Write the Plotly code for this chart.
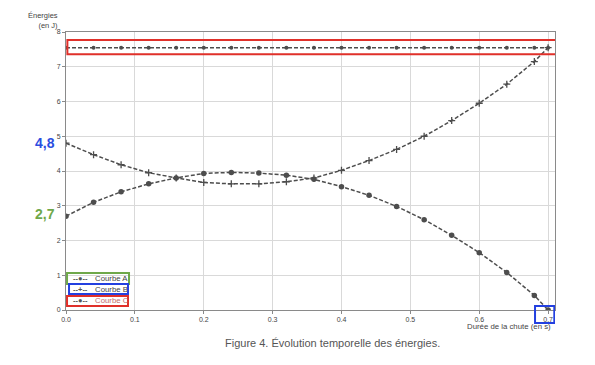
import plotly.graph_objects as go

# ---- data ----
t = [0.00, 0.04, 0.08, 0.12, 0.16, 0.20, 0.24, 0.28, 0.32, 0.36,
     0.40, 0.44, 0.48, 0.52, 0.56, 0.60, 0.64, 0.68, 0.70]
courbe_a = [2.70, 3.10, 3.40, 3.63, 3.80, 3.93, 3.96, 3.94, 3.88, 3.76,
            3.55, 3.30, 2.98, 2.60, 2.15, 1.65, 1.08, 0.42, 0.00]
courbe_b = [4.80, 4.47, 4.18, 3.95, 3.80, 3.67, 3.63, 3.63, 3.69, 3.80,
            4.02, 4.30, 4.62, 5.00, 5.45, 5.95, 6.50, 7.15, 7.55]
courbe_c = [7.55, 7.55, 7.55, 7.55, 7.55, 7.55, 7.55, 7.55, 7.55, 7.55,
            7.55, 7.55, 7.55, 7.55, 7.55, 7.55, 7.55, 7.55, 7.55]
series_names = ["Courbe A", "Courbe B", "Courbe C"]
legend_symbols = ["--●--", "--+--", "--●--"]
x_ticks = [0.0, 0.1, 0.2, 0.3, 0.4, 0.5, 0.6, 0.7]
y_ticks = [0, 1, 2, 3, 4, 5, 6, 7, 8]

LINE = "#4d4d4d"
DASH = "4px,2px"

fig = go.Figure()
fig.add_trace(go.Scatter(
    x=t, y=courbe_a, name=series_names[0], mode="lines+markers",
    line=dict(color=LINE, width=1.5, dash=DASH),
    marker=dict(symbol="circle", size=5.5, color=LINE), showlegend=False))
fig.add_trace(go.Scatter(
    x=t, y=courbe_b, name=series_names[1], mode="lines+markers",
    line=dict(color=LINE, width=1.5, dash=DASH),
    marker=dict(symbol="cross-thin", size=5, line=dict(color=LINE, width=1.3)),
    showlegend=False))
fig.add_trace(go.Scatter(
    x=t, y=courbe_c, name=series_names[2], mode="lines+markers",
    line=dict(color=LINE, width=1.5, dash=DASH),
    marker=dict(symbol="circle", size=4, color=LINE), showlegend=False))

# page has an 8px body margin: figure is 587x357, so it fills the 595x365 window
fig.update_layout(
    width=587, height=357,
    margin=dict(l=58, r=40, t=24, b=55),
    paper_bgcolor="white", plot_bgcolor="white",
    font=dict(family="Liberation Sans, Arial, sans-serif", size=7, color="#444"),
    showlegend=False,
    xaxis=dict(range=[0, 0.71], tickvals=x_ticks, tickformat=".1f",
               showgrid=True, gridcolor="#d9d9d9", gridwidth=1,
               showline=True, linecolor="#8a8a8a", linewidth=1, mirror=True,
               ticks="outside", ticklen=3, tickcolor="#8a8a8a",
               zeroline=False, tickfont=dict(size=7, color="#444")),
    yaxis=dict(range=[0, 8], tickvals=y_ticks,
               showgrid=True, gridcolor="#d9d9d9", gridwidth=1,
               showline=True, linecolor="#8a8a8a", linewidth=1, mirror=True,
               ticks="outside", ticklen=3, tickcolor="#8a8a8a",
               zeroline=False, tickfont=dict(size=7, color="#444")),
)

# axis titles
fig.add_annotation(text="Énergies<br>(en J)", xref="paper", yref="paper",
                   x=-0.012, y=1.04, xanchor="right", yanchor="middle",
                   align="right", showarrow=False, font=dict(size=7.5, color="#444"))
fig.add_annotation(text="Durée de la chute (en s)", xref="paper", yref="paper",
                   x=0.995, y=-0.058, xanchor="right", yanchor="middle",
                   showarrow=False, font=dict(size=7.8, color="#444"))
# caption
fig.add_annotation(text="Figure 4. Évolution temporelle des énergies.",
                   xref="paper", yref="paper", x=0.544, y=-0.12,
                   xanchor="center", yanchor="middle", showarrow=False,
                   font=dict(size=11, color="#555",
                             family="Liberation Sans, Arial, sans-serif"))
# handwritten-style value labels (kept just left of the tick labels)
fig.add_annotation(text="<b>4,8</b>", xref="paper", yref="y", x=-0.019, y=courbe_b[0],
                   xanchor="right", yanchor="middle", showarrow=False,
                   font=dict(size=14, color="#2b4de0"))
fig.add_annotation(text="<b>2,7</b>", xref="paper", yref="y", x=-0.019, y=courbe_a[0] + 0.05,
                   xanchor="right", yanchor="middle", showarrow=False,
                   font=dict(size=14, color="#6fa84a"))

# compact legend (symbol + label), one row per curve
legend_rows_y = [0.905, 0.60, 0.27]
legend_text_colors = ["#444", "#444", "#c46a6a"]
legend_box_colors = ["#6fa84a", "#2340e0", "#e0302a"]
legend_boxes = [(0.0015, 0.0915, 0.75, 1.065),
                (0.0044, 0.0900, 0.46, 0.75),
                (0.0015, 0.0900, 0.115, 0.40)]
for i in range(3):
    fig.add_annotation(text="<b>" + legend_symbols[i] + "</b>", xref="x", yref="y", x=0.021,
                       y=legend_rows_y[i], xanchor="center", yanchor="middle",
                       showarrow=False, font=dict(size=7.5, color="#555"))
    fig.add_annotation(text=series_names[i], xref="x", yref="y", x=0.039,
                       y=legend_rows_y[i], xanchor="left", yanchor="middle",
                       showarrow=False, font=dict(size=7.8, color=legend_text_colors[i]))
    x0, x1, y0, y1 = legend_boxes[i]
    fig.add_shape(type="rect", xref="x", yref="y", x0=x0, x1=x1, y0=y0, y1=y1,
                  line=dict(color=legend_box_colors[i], width=2),
                  fillcolor="rgba(0,0,0,0)")

# highlight boxes
fig.add_shape(type="rect", xref="x", yref="y", x0=0.002, x1=0.716, y0=7.36, y1=7.77,
              line=dict(color="#e0302a", width=2), fillcolor="rgba(0,0,0,0)")
fig.add_shape(type="rect", xref="x", yref="paper", x0=0.681, x1=0.709, y0=-0.047, y1=0.014,
              line=dict(color="#2340e0", width=2), fillcolor="rgba(0,0,0,0)")

fig.write_html("out.html")
